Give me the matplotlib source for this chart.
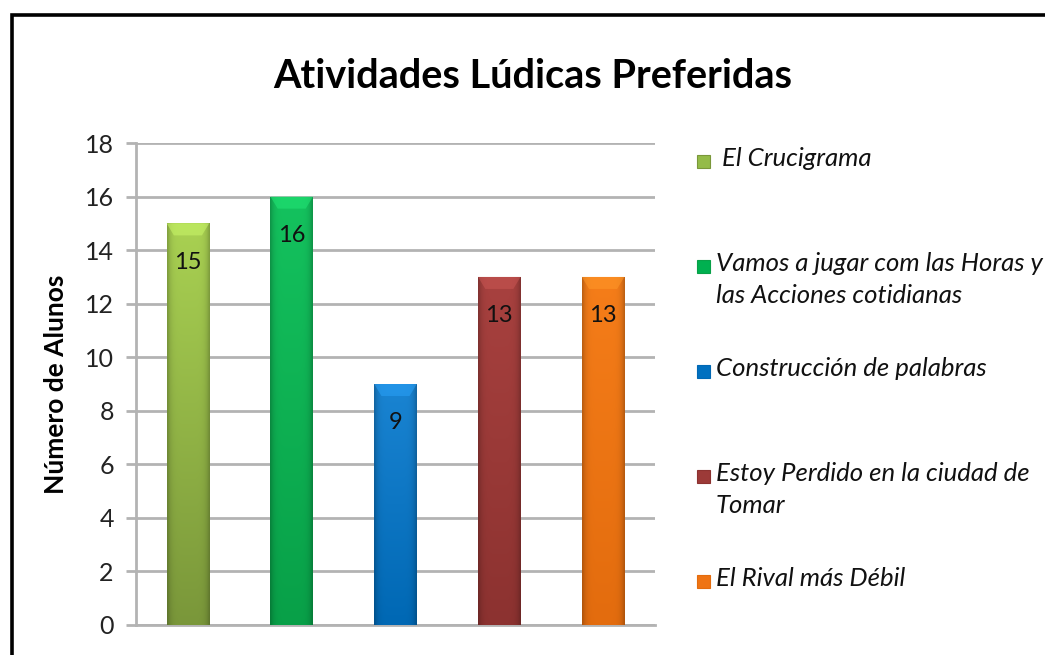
import numpy as np
import matplotlib
matplotlib.use('Agg')
import matplotlib.pyplot as plt
from matplotlib.patches import Rectangle, Polygon
from matplotlib.colors import to_rgb

# data
actividades = [' El Crucigrama',
               'Vamos a jugar com las Horas y\nlas Acciones cotidianas',
               'Construcción de palabras',
               'Estoy Perdido en la ciudad de\nTomar',
               'El Rival más Débil']
alunos = [15, 16, 9, 13, 13]
yticks = [0, 2, 4, 6, 8, 10, 12, 14, 16, 18]

colors_top = ['#a9d152', '#14c25e', '#1a84d2', '#a8413f', '#f57d19']
colors_bot = ['#7a973a', '#08a048', '#0068b4', '#8c3230', '#e36c0e']
colors_mid = ['#94bb48', '#00b050', '#0070c0', '#9c3a38', '#ef7414']

W, H = 1045, 655
fig = plt.figure(figsize=(W / 100, H / 100), dpi=100)
ax = fig.add_axes([136 / W, 30 / H, 519 / W, 482 / H])

x = np.arange(len(alunos))
bars = ax.bar(x, alunos, width=0.41, color=colors_mid, zorder=3, linewidth=0)

# gradient fill on bars
for i, b in enumerate(bars):
    x0, w, h = b.get_x(), b.get_width(), b.get_height()
    t = np.linspace(0, 1, 120)[:, None, None]
    u = np.linspace(-1, 1, 30)[None, :, None]
    top = np.array(to_rgb(colors_top[i]))[None, None, :]
    bot = np.array(to_rgb(colors_bot[i]))[None, None, :]
    img = top * (1 - t) + bot * t
    shade = 1 - 0.22 * np.abs(u) ** 6
    img = np.clip(img * shade, 0, 1)
    im = ax.imshow(img, extent=[x0, x0 + w, 0, h], aspect='auto',
                   origin='upper', zorder=3, interpolation='bilinear')
    im.set_clip_path(b)
    light = np.clip(np.array(to_rgb(colors_top[i])) * 1.12 + 0.05, 0, 1)
    ax.add_patch(Polygon([(x0, h), (x0 + w, h), (x0 + w - 0.07, h - 0.45),
                          (x0 + 0.07, h - 0.45)], closed=True,
                         facecolor=light, alpha=0.55, lw=0, zorder=4))
    ax.annotate(str(alunos[i]), (x[i], h), xytext=(0, -28),
                textcoords='offset points', ha='center', va='center',
                fontsize=17, family='Lato', color='#111111', zorder=5)

ax.set_xlim(-0.5, len(alunos) - 0.5)
ax.set_ylim(0, 18)
ax.set_yticks(yticks)
ax.set_xticks([])
ax.yaxis.grid(True, color='#b3b3b3', linewidth=2)
ax.set_axisbelow(True)
for s in ['top', 'right']:
    ax.spines[s].set_visible(False)
ax.spines['left'].set_color('#b3b3b3')
ax.spines['left'].set_linewidth(2)
ax.spines['bottom'].set_color('#b3b3b3')
ax.spines['bottom'].set_linewidth(2)
ax.tick_params(axis='y', length=7, width=2, color='#b3b3b3',
               labelsize=18, pad=9)
for lab in ax.get_yticklabels():
    lab.set_family('Lato')
    lab.set_color('#222222')
ax.set_ylabel('Número de Alunos', family='Lato', fontweight='bold',
              fontsize=19, labelpad=12)

fig.text(533 / W, 1 - 77 / H, 'Atividades Lúdicas Preferidas', ha='center',
         va='center', family='Lato', fontweight='bold', fontsize=28.5)

# legend drawn by hand to mimic the layout
for i, lab in enumerate(actividades):
    yc = 161 + i * 105
    fig.add_artist(Rectangle((697 / W, 1 - (yc + 7) / H), 13 / W, 13 / H,
                             transform=fig.transFigure,
                             facecolor=colors_mid[i], edgecolor=colors_bot[i],
                             lw=0.8))
    fig.text(716 / W, 1 - (yc - 14) / H, lab, ha='left', va='top',
             family='Lato', style='italic', fontsize=18.5,
             linespacing=1.45, color='#111111')

# outer frame
fig.add_artist(Rectangle((12 / W, -0.05), 1.1, 1 - 15 / H + 0.05,
                         transform=fig.transFigure, fill=False,
                         edgecolor='black', lw=2.6))

fig.savefig('out.png', dpi=100)
